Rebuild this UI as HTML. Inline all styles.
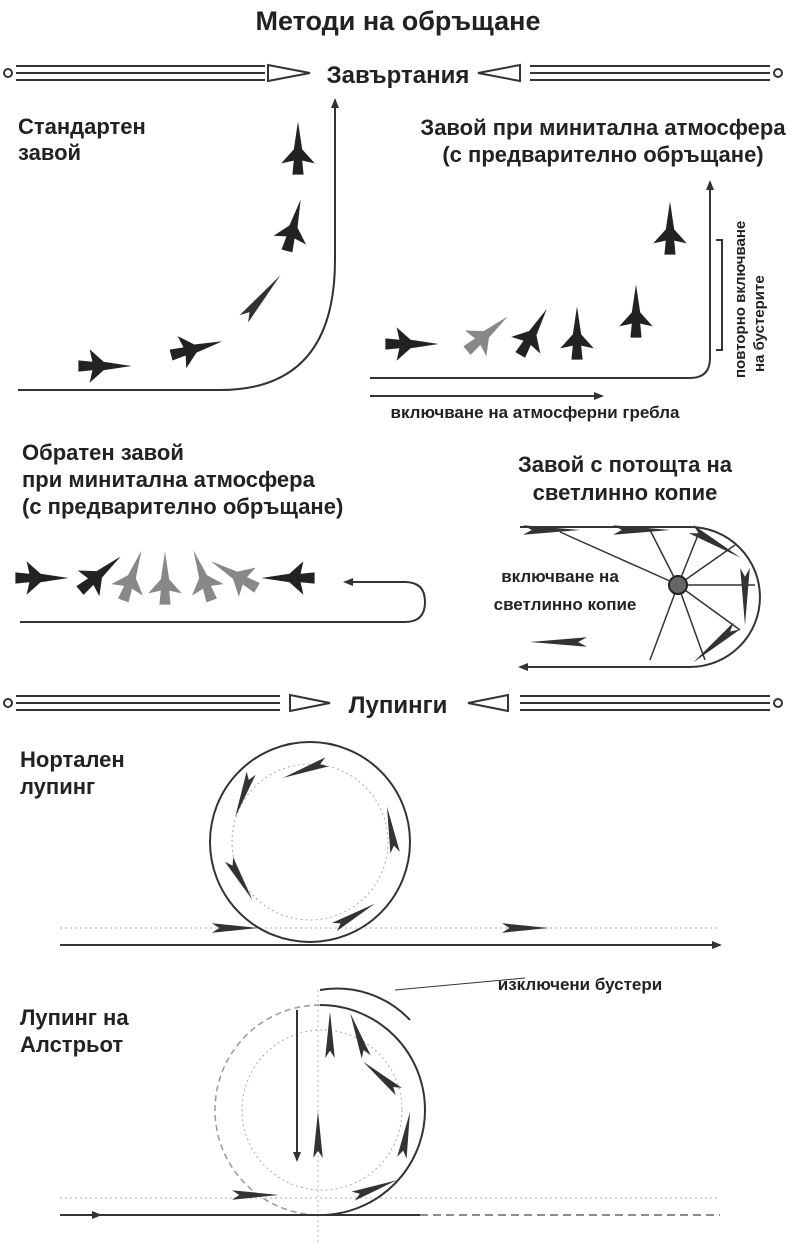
<!DOCTYPE html>
<html><head><meta charset="utf-8"><style>
html,body{margin:0;padding:0;background:#fff;}
svg{display:block;}
text{font-family:"Liberation Sans",sans-serif;font-weight:bold;fill:#222;}
</style></head><body>
<svg width="797" height="1245" viewBox="0 0 797 1245">
<defs>
<marker id="ar" markerWidth="10" markerHeight="10" refX="8" refY="5" orient="auto" markerUnits="userSpaceOnUse"><path d="M0,1 L10,5 L0,9 Z" fill="#333"/></marker>
<g id="ship"><path d="M24,0 L4,-3 L-6,-12 L-4,-3 L-14,-4 L-14,4 L-4,3 L-6,12 L4,3 Z" fill="#222" transform="scale(1.4)"/></g>
<g id="shipg"><path d="M24,0 L4,-3 L-6,-12 L-4,-3 L-14,-4 L-14,4 L-4,3 L-6,12 L4,3 Z" fill="#888" transform="scale(1.4)"/></g>
<g id="dart"><path d="M16,0 L-10,-4 L-6,0 L-10,4 Z" fill="#333"/></g>
</defs>

<text x="398" y="30" font-size="27" text-anchor="middle">Методи на обръщане</text>

<g stroke="#333" fill="none" stroke-width="2">
<circle cx="8" cy="73" r="4"/><circle cx="778" cy="73" r="4"/>
<path d="M16,66 H265 M16,73 H265 M16,80 H265 M530,66 H770 M530,73 H770 M530,80 H770"/>
<path d="M268,65 L310,73 L268,81 Z"/><path d="M520,65 L478,73 L520,81 Z"/>
</g>
<text x="398" y="83" font-size="24" text-anchor="middle">Завъртания</text>

<text x="18" y="134" font-size="22">Стандартен</text>
<text x="18" y="160" font-size="22">завой</text>
<path d="M18,390 H220 Q335,390 335,260 V100" stroke="#333" stroke-width="2" fill="none" marker-end="url(#ar)"/>
<g>
<use href="#ship" transform="translate(98,366)"/>
<use href="#ship" transform="translate(190,350) rotate(-15)"/>
<use href="#dart" transform="translate(258,302) rotate(-50) scale(2.2,1.4)"/>
<use href="#ship" transform="translate(292,232) rotate(-75)"/>
<use href="#ship" transform="translate(298,155) rotate(-90)"/>
</g>

<text x="603" y="135" font-size="22" text-anchor="middle">Завой при минитална атмосфера</text>
<text x="603" y="162" font-size="22" text-anchor="middle">(с предварително обръщане)</text>
<path d="M370,378 H690 Q710,378 710,358 V182" stroke="#333" stroke-width="2" fill="none" marker-end="url(#ar)"/>
<path d="M716,240 H722 V350 H716" stroke="#333" stroke-width="2" fill="none"/>
<text transform="translate(745,378) rotate(-90)" font-size="15">повторно включване</text>
<text transform="translate(764,372) rotate(-90)" font-size="15">на бустерите</text>
<path d="M370,396 H602" stroke="#333" stroke-width="2" marker-end="url(#ar)"/>
<text x="535" y="418" font-size="17" text-anchor="middle">включване на атмосферни гребла</text>
<g>
<use href="#ship" transform="translate(405,344)"/>
<use href="#shipg" transform="translate(482,338) rotate(-40)"/>
<use href="#ship" transform="translate(530,338) rotate(-60)"/>
<use href="#ship" transform="translate(577,340) rotate(-90)"/>
<use href="#ship" transform="translate(636,318) rotate(-90)"/>
<use href="#ship" transform="translate(670,235) rotate(-90)"/>
</g>

<text x="22" y="460" font-size="22">Обратен завой</text>
<text x="22" y="487" font-size="22">при минитална атмосфера</text>
<text x="22" y="514" font-size="22">(с предварително обръщане)</text>
<path d="M20,622 H405 Q425,622 425,602 Q425,582 405,582 H345" stroke="#333" stroke-width="2" fill="none" marker-end="url(#ar)"/>
<g>
<use href="#ship" transform="translate(35,578)"/>
<use href="#ship" transform="translate(95,578) rotate(-40)"/>
<use href="#shipg" transform="translate(130,582) rotate(-70)"/>
<use href="#shipg" transform="translate(165,585) rotate(-90)"/>
<use href="#shipg" transform="translate(205,582) rotate(-110)"/>
<use href="#shipg" transform="translate(240,578) rotate(-150)"/>
<use href="#ship" transform="translate(295,578) rotate(180)"/>
</g>

<text x="625" y="472" font-size="22" text-anchor="middle">Завой с потощта на</text>
<text x="625" y="500" font-size="22" text-anchor="middle">светлинно копие</text>
<path d="M520,527 H690 A70,70 0 0 1 690,667 H520" stroke="#333" stroke-width="2" fill="none" marker-end="url(#ar)"/>
<g stroke="#333" stroke-width="1.5">
<path d="M678,585 L650,530 M678,585 L700,530 M678,585 L735,545 M678,585 L755,585 M678,585 L740,630 M678,585 L705,660 M678,585 L650,660 M560,532 L672,582"/>
</g>
<circle cx="678" cy="585" r="9" fill="#666" stroke="#222" stroke-width="2"/>
<text x="560" y="582" font-size="17" text-anchor="middle">включване на</text>
<text x="565" y="610" font-size="17" text-anchor="middle">светлинно копие</text>
<g>
<use href="#dart" transform="translate(545,530) scale(2.2,1.2)"/>
<use href="#dart" transform="translate(635,530) scale(2.2,1.2)"/>
<use href="#dart" transform="translate(710,540) rotate(30) scale(2.2,1.2)"/>
<use href="#dart" transform="translate(745,590) rotate(90) scale(2.2,1.2)"/>
<use href="#dart" transform="translate(720,640) rotate(140) scale(2.2,1.2)"/>
<use href="#dart" transform="translate(565,642) rotate(180) scale(2.2,1.2)"/>
</g>

<g stroke="#333" fill="none" stroke-width="2">
<circle cx="8" cy="703" r="4"/><circle cx="778" cy="703" r="4"/>
<path d="M16,696 H280 M16,703 H280 M16,710 H280 M520,696 H770 M520,703 H770 M520,710 H770"/>
<path d="M290,695 L330,703 L290,711 Z"/><path d="M508,695 L468,703 L508,711 Z"/>
</g>
<text x="398" y="713" font-size="24" text-anchor="middle">Лупинги</text>

<text x="20" y="767" font-size="22">Нортален</text>
<text x="20" y="794" font-size="22">лупинг</text>
<line x1="60" y1="928" x2="720" y2="928" stroke="#aaa" stroke-dasharray="2,3"/>
<circle cx="310" cy="842" r="100" stroke="#333" stroke-width="2" fill="none"/>
<circle cx="310" cy="842" r="78" stroke="#aaa" stroke-dasharray="2,3" fill="none"/>
<path d="M60,945 H720" stroke="#333" stroke-width="2" marker-end="url(#ar)"/>
<g>
<use href="#dart" transform="translate(230,928) scale(1.8,1.2)"/>
<use href="#dart" transform="translate(350,918) rotate(-30) scale(1.8,1.2)"/>
<use href="#dart" transform="translate(392,835) rotate(-100) scale(1.8,1.2)"/>
<use href="#dart" transform="translate(310,768) rotate(160) scale(1.8,1.2)"/>
<use href="#dart" transform="translate(245,790) rotate(110) scale(1.8,1.2)"/>
<use href="#dart" transform="translate(238,875) rotate(60) scale(1.8,1.2)"/>
<use href="#dart" transform="translate(520,928) scale(1.8,1.2)"/>
</g>

<text x="20" y="1025" font-size="22">Лупинг на</text>
<text x="20" y="1052" font-size="22">Алстрьот</text>
<text x="580" y="990" font-size="17" text-anchor="middle">изключени бустери</text>
<path d="M525,978 L395,990" stroke="#333" stroke-width="1"/>
<path d="M320,990 A100,100 0 0 1 410,1020" stroke="#333" stroke-width="2" fill="none"/>
<line x1="60" y1="1198" x2="720" y2="1198" stroke="#aaa" stroke-dasharray="2,3"/>
<line x1="318" y1="990" x2="318" y2="1245" stroke="#bbb" stroke-dasharray="2,3"/>
<path d="M320,1005 A100,100 0 0 1 320,1215" stroke="#333" stroke-width="2" fill="none"/>
<path d="M320,1005 A100,100 0 0 0 320,1215" stroke="#999" stroke-width="1.5" stroke-dasharray="6,4" fill="none"/>
<circle cx="322" cy="1110" r="80" stroke="#aaa" stroke-dasharray="2,3" fill="none"/>
<path d="M297,1010 V1160" stroke="#333" stroke-width="2" marker-end="url(#ar)"/>
<path d="M60,1215 H420" stroke="#333" stroke-width="2"/>
<path d="M420,1215 H720" stroke="#666" stroke-width="1.5" stroke-dasharray="8,5"/>
<path d="M80,1215 H100" stroke="#333" stroke-width="2" marker-end="url(#ar)"/>
<g>
<use href="#dart" transform="translate(250,1195) scale(1.8,1.2)"/>
<use href="#dart" transform="translate(370,1190) rotate(-20) scale(1.8,1.2)"/>
<use href="#dart" transform="translate(405,1140) rotate(-80) scale(1.8,1.2)"/>
<use href="#dart" transform="translate(385,1080) rotate(-140) scale(1.8,1.2)"/>
<use href="#dart" transform="translate(360,1040) rotate(-110) scale(1.8,1.2)"/>
<use href="#dart" transform="translate(330,1040) rotate(-90) scale(1.8,1.2)"/>
<use href="#dart" transform="translate(318,1140) rotate(-90) scale(1.8,1.2)"/>
</g>
</svg>
</body></html>
